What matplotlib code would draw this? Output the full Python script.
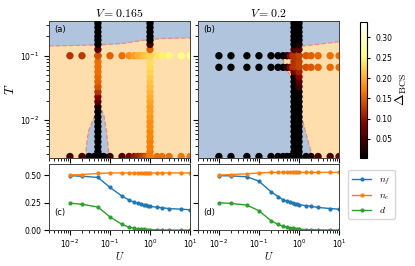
import numpy as np
import matplotlib
matplotlib.use('Agg')
import matplotlib.pyplot as plt

plt.rcParams['mathtext.fontset'] = 'cm'

# --- data ---
U_row = [0.01, 0.02, 0.05, 0.1, 0.2, 0.3, 0.4, 0.5, 0.6, 0.7, 0.8, 0.9, 1.0, 1.5, 2.0, 3.0, 6.0, 10.0]
T_col = [0.0027, 0.0032, 0.0038, 0.0046, 0.0055, 0.0066, 0.0079, 0.0094, 0.0112, 0.0135,
         0.0161, 0.0193, 0.023, 0.0275, 0.033, 0.0394, 0.0471, 0.0564, 0.0675, 0.0807,
         0.10, 0.125, 0.15, 0.175, 0.20, 0.235, 0.275, 0.32]
T_bottom = 0.0027

# panel (a), V=0.165
U_bot_a = [0.01, 0.02, 0.03, 0.04, 0.05, 0.06, 0.07, 0.1, 0.2, 0.3, 0.4, 0.5, 0.6, 0.7, 0.8, 0.9, 1.0, 1.5, 2.0, 3.0, 6.0, 10.0]
d_bot_a = [0.05, 0.05, 0.0, 0.0, 0.0, 0.0, 0.0, 0.04, 0.05, 0.08, 0.10, 0.11, 0.12, 0.13, 0.14, 0.15, 0.17, 0.16, 0.16, 0.16, 0.165, 0.165]
d_row01_a = [0.12, 0.125, 0.14, 0.15, 0.16, 0.18, 0.19, 0.20, 0.205, 0.21, 0.215, 0.22, 0.225, 0.235, 0.245, 0.25, 0.26, 0.27]
d_col005_a = [0, 0, 0, 0, 0, 0, 0, 0, 0, 0,
              0.02, 0.06, 0.09, 0.12, 0.14, 0.15, 0.155, 0.16, 0.16, 0.16,
              0.14, 0.06, 0, 0, 0, 0, 0, 0]
d_col1_a = [0.165, 0.165, 0.17, 0.17, 0.175, 0.175, 0.18, 0.18, 0.185, 0.19,
            0.19, 0.195, 0.20, 0.205, 0.21, 0.215, 0.22, 0.225, 0.23, 0.23,
            0.225, 0.15, 0.05, 0, 0, 0, 0, 0]
bnd_U_a = [0.003, 0.05, 0.2, 0.4, 0.7, 1.0, 2.0, 10.0]
bnd_T_a = [0.142, 0.147, 0.155, 0.165, 0.175, 0.18, 0.185, 0.19]
dome_U = [0.024, 0.026, 0.029, 0.036, 0.043, 0.05, 0.056, 0.063, 0.07, 0.082, 0.091, 0.095]
dome_T = [0.00256, 0.004, 0.0066, 0.0094, 0.012, 0.014, 0.0148, 0.014, 0.012, 0.0066, 0.0035, 0.00256]

# panel (b), V=0.2
d_bot_b = [0, 0, 0, 0, 0, 0, 0, 0, 0, 0, 0, 0, 0, 0, 0.02, 0.05, 0.05, 0.06]
d_row01_b = [0, 0, 0, 0, 0, 0, 0, 0.02, 0.09, 0.12, 0.13, 0.13, 0.13, 0.145, 0.15, 0.155, 0.16, 0.16]
d_row0066_b = [0, 0, 0, 0, 0, 0, 0, 0.03, 0.09, 0.12, 0.13, 0.13, 0.13, 0.14, 0.145, 0.15, 0.155, 0.155]
d_col075_b = [0, 0, 0, 0, 0, 0, 0, 0, 0, 0,
              0, 0, 0, 0, 0, 0, 0, 0.08, 0.12, 0.12,
              0.12, 0.05, 0, 0, 0, 0, 0, 0]
d_col1_b = [0, 0, 0, 0, 0, 0, 0, 0, 0, 0,
            0, 0, 0, 0, 0.04, 0.06, 0.09, 0.11, 0.13, 0.13,
            0.13, 0.06, 0.02, 0, 0, 0, 0, 0]
edge_U_b = [10.0, 1.1, 0.54, 0.4, 0.45, 0.6, 2.2]
edge_T_b = [0.165, 0.14, 0.109, 0.086, 0.065, 0.05, 0.00256]
poly_U_b = edge_U_b + [10.0]
poly_T_b = edge_T_b + [0.00256]

# bottom panels
nf_c = [0.494, 0.49, 0.479, 0.388, 0.309, 0.273, 0.255, 0.242, 0.235, 0.23, 0.225, 0.22, 0.215, 0.209, 0.203, 0.196, 0.19, 0.185]
nc_c = [0.50, 0.505, 0.515, 0.52, 0.52, 0.52, 0.52, 0.52, 0.52, 0.52, 0.52, 0.52, 0.52, 0.52, 0.52, 0.52, 0.52, 0.52]
d_c = [0.245, 0.235, 0.21, 0.12, 0.052, 0.026, 0.016, 0.011, 0.008, 0.006, 0.005, 0.004, 0.003, 0.002, 0.001, 0.0, 0.0, 0.0]
nf_d = [0.495, 0.493, 0.485, 0.445, 0.348, 0.305, 0.275, 0.262, 0.252, 0.246, 0.24, 0.236, 0.232, 0.222, 0.215, 0.206, 0.196, 0.19]
nc_d = [0.50, 0.505, 0.512, 0.52, 0.525, 0.525, 0.525, 0.525, 0.525, 0.525, 0.525, 0.525, 0.525, 0.525, 0.525, 0.525, 0.525, 0.525]
d_d = [0.248, 0.243, 0.227, 0.176, 0.085, 0.052, 0.036, 0.027, 0.02, 0.017, 0.013, 0.01, 0.008, 0.005, 0.003, 0.002, 0.001, 0.0]

blue_bg = 'lightsteelblue'
orange_bg = 'navajowhite'
dash_col = '#f08a7a'
cmap = 'afmhot'
vmin, vmax = 0.003, 0.338
xlim = (3e-3, 10)
ylim = (0.00256, 0.347)
ms = 28
fs = 5.5

fig = plt.figure(figsize=(4.15, 2.66), dpi=100)
axa = fig.add_axes([0.118, 0.406, 0.340, 0.515])
axb = fig.add_axes([0.477, 0.406, 0.340, 0.515])
cax = fig.add_axes([0.867, 0.406, 0.017, 0.511])
axc = fig.add_axes([0.118, 0.135, 0.340, 0.248])
axd = fig.add_axes([0.477, 0.135, 0.340, 0.248])

def scat(ax, U, T, d):
    return ax.scatter(U, T, c=d, cmap=cmap, vmin=vmin, vmax=vmax, s=ms, zorder=5, linewidths=0)

# panel (a)
ax = axa
ax.set_xscale('log'); ax.set_yscale('log')
ax.set_xlim(xlim); ax.set_ylim(ylim)
bU = np.array(bnd_U_a); bT = np.array(bnd_T_a)
ax.fill_between(bU, ylim[0], bT, color=orange_bg, lw=0, zorder=1)
ax.fill_between(bU, bT, ylim[1], color=blue_bg, lw=0, zorder=1)
ax.plot(bU, bT, '--', color=dash_col, lw=0.9, zorder=2)
ax.fill(dome_U, dome_T, color=blue_bg, lw=0, zorder=2)
ax.plot(dome_U, dome_T, '--', color=dash_col, lw=0.9, zorder=3)
scat(ax, U_row, [0.1] * len(U_row), d_row01_a)
scat(ax, U_bot_a, [T_bottom] * len(U_bot_a), d_bot_a)
scat(ax, [0.05] * len(T_col), T_col, d_col005_a)
scat(ax, [1.0] * len(T_col), T_col, d_col1_a)
ax.set_ylabel('$T$', fontsize=9.5, labelpad=2)
ax.set_title('$V=0.165$', fontsize=8.5, pad=3)
ax.text(0.04, 0.97, '(a)', transform=ax.transAxes, fontsize=fs + 0.5, va='top', ha='left', zorder=10)

# panel (b)
ax = axb
ax.set_xscale('log'); ax.set_yscale('log')
ax.set_xlim(xlim); ax.set_ylim(ylim)
ax.set_facecolor(blue_bg)
ax.fill(poly_U_b, poly_T_b, color=orange_bg, lw=0, zorder=1)
ax.plot(edge_U_b, edge_T_b, '--', color=dash_col, lw=0.9, zorder=2)
scat(ax, U_row, [0.1] * len(U_row), d_row01_b)
scat(ax, U_row, [0.066] * len(U_row), d_row0066_b)
scat(ax, U_row, [T_bottom] * len(U_row), d_bot_b)
scat(ax, [0.75] * len(T_col), T_col, d_col075_b)
sc = scat(ax, [1.0] * len(T_col), T_col, d_col1_b)
ax.set_title('$V=0.2$', fontsize=8.5, pad=3)
ax.text(0.04, 0.97, '(b)', transform=ax.transAxes, fontsize=fs + 0.5, va='top', ha='left', zorder=10)

for ax in (axa, axb):
    ax.tick_params(axis='both', which='both', labelsize=fs, direction='out')
    ax.tick_params(axis='x', which='both', labelbottom=False)
axb.tick_params(axis='y', which='both', labelleft=False)

cb = fig.colorbar(sc, cax=cax)
cb.set_ticks([0.05, 0.10, 0.15, 0.20, 0.25, 0.30])
cb.ax.tick_params(labelsize=fs, length=2.5)
cb.set_label(r'$\Delta_{\rm BCS}$', fontsize=10, labelpad=1)

# bottom panels
for ax, nf, nc, dd, lab in ((axc, nf_c, nc_c, d_c, '(c)'), (axd, nf_d, nc_d, d_d, '(d)')):
    ax.plot(U_row, nf, '-o', color='tab:blue', ms=2, lw=1, label='$n_f$')
    ax.plot(U_row, nc, '-o', color='tab:orange', ms=2, lw=1, label='$n_c$')
    ax.plot(U_row, dd, '-o', color='tab:green', ms=2, lw=1, label='$d$')
    ax.set_xscale('log')
    ax.set_xlim(xlim); ax.set_ylim(0, 0.6)
    ax.set_yticks([0.0, 0.25, 0.5])
    ax.tick_params(axis='both', which='both', labelsize=fs, pad=2)
    ax.set_xlabel('$U$', fontsize=7.5, labelpad=0)
    ax.text(0.04, 0.2, lab, transform=ax.transAxes, fontsize=fs + 0.5, va='bottom', ha='left')
axd.tick_params(axis='y', labelleft=False)
axd.legend(loc='upper left', bbox_to_anchor=(1.03, 0.98), fontsize=7, handlelength=2.0, borderpad=0.4, labelspacing=0.35)

for ax in (axa, axb, axc, axd):
    for s in ax.spines.values():
        s.set_linewidth(0.7)
        s.set_color('0.25')

fig.savefig('out.png', dpi=100)
